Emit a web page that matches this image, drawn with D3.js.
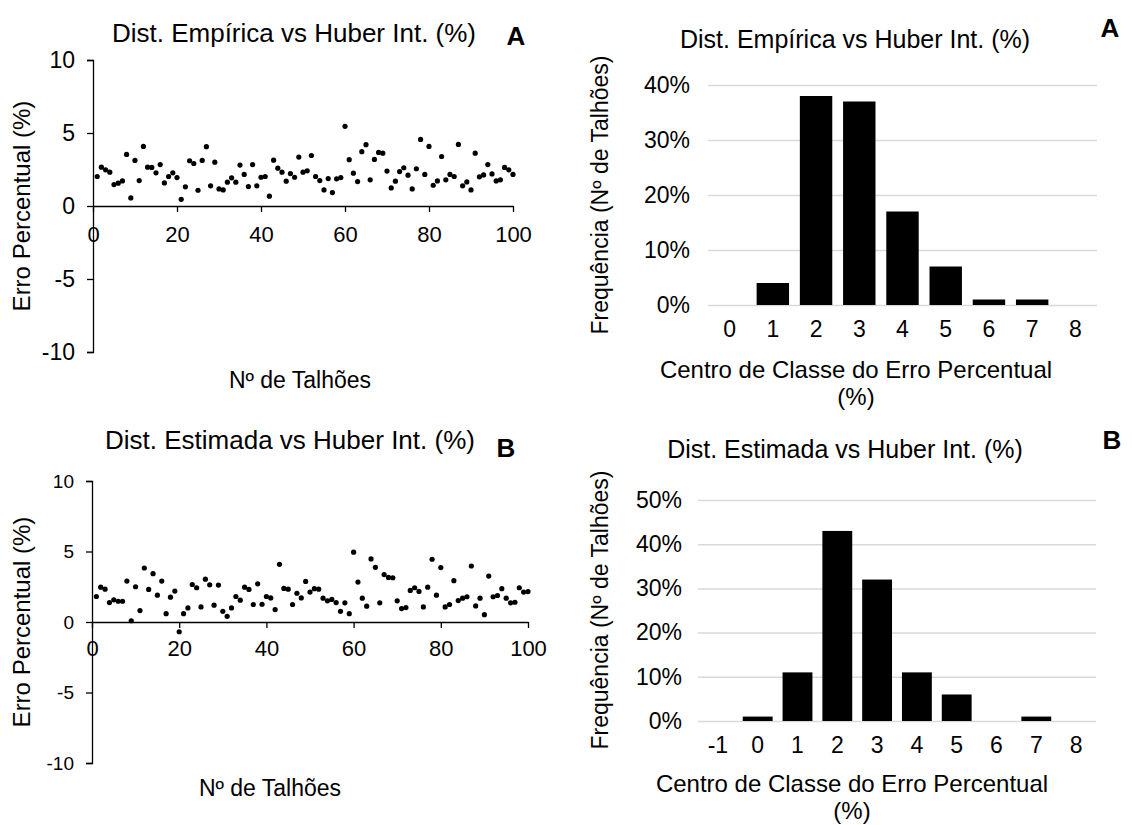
<!DOCTYPE html>
<html>
<head>
<meta charset="utf-8">
<script src="https://cdn.jsdelivr.net/npm/d3@7"></script>
<style>
  body { margin: 0; background: #fff; }
  text { font-family: "Liberation Sans", Arial, sans-serif; fill: #000; }
</style>
</head>
<body>
<svg id="chart" width="1132" height="825"></svg>
<script>
// erro percentual por talhão (1..100)
var errEmpirica = [2.02, 2.66, 2.48, 2.32, 1.47, 1.56, 1.72, 3.53, 0.55, 3.12,
    1.74, 4.08, 2.66, 2.64, 2.27, 2.84, 1.58, 2.02, 2.27, 1.95,
    0.46, 1.31, 3.10, 2.91, 1.08, 3.12, 4.06, 1.38, 3.00, 1.17,
    1.10, 1.63, 1.93, 1.63, 2.80, 2.16, 1.33, 2.84, 1.38, 1.97,
    2.02, 0.67, 3.14, 2.59, 2.32, 1.70, 2.22, 1.97, 3.35, 2.32,
    2.41, 3.46, 2.02, 1.74, 1.10, 1.88, 0.92, 1.86, 1.95, 5.46,
    3.17, 2.25, 1.67, 3.72, 4.20, 1.79, 3.19, 3.67, 3.62, 2.39,
    1.24, 1.70, 2.36, 2.62, 2.11, 1.17, 2.55, 4.56, 2.16, 4.08,
    1.42, 1.72, 3.39, 1.79, 2.16, 2.02, 4.22, 1.38, 1.65, 1.10,
    3.62, 2.00, 2.13, 2.84, 2.20, 1.72, 1.79, 2.64, 2.48, 2.16];

var errEstimada = [1.81, 2.47, 2.33, 1.38, 1.57, 1.47, 1.47, 2.90, 0.09, 2.50,
    0.81, 3.83, 2.31, 3.43, 1.90, 2.90, 0.59, 1.76, 2.19, -0.69,
    0.59, 1.00, 2.66, 2.43, 1.07, 3.04, 2.64, 1.19, 2.62, 0.76,
    0.40, 1.00, 1.81, 1.55, 2.47, 2.31, 1.24, 2.71, 1.26, 1.81,
    1.71, 0.88, 4.09, 2.38, 2.33, 1.24, 2.04, 1.71, 2.88, 2.12,
    2.36, 2.33, 1.69, 1.50, 1.60, 1.38, 0.76, 1.36, 0.59, 4.95,
    2.83, 1.69, 1.12, 4.47, 3.88, 1.36, 3.36, 3.16, 3.14, 1.50,
    0.95, 1.02, 2.24, 2.43, 2.17, 1.07, 2.47, 4.45, 1.90, 3.86,
    1.07, 1.24, 2.93, 1.52, 1.69, 1.79, 3.97, 1.14, 1.69, 0.52,
    3.26, 1.79, 1.88, 2.36, 1.69, 1.36, 1.40, 2.43, 2.12, 2.16];

var scatterTicksX = [0, 20, 40, 60, 80, 100];
var scatterTicksY = [-10, -5, 0, 5, 10];

var classesA = ['0', '1', '2', '3', '4', '5', '6', '7', '8'];
var freqA = [0, 0.04, 0.38, 0.37, 0.17, 0.07, 0.01, 0.01, 0];
var ticksA = [0, 0.1, 0.2, 0.3, 0.4];

var classesB = ['-1', '0', '1', '2', '3', '4', '5', '6', '7', '8'];
var freqB = [0, 0.01, 0.11, 0.43, 0.32, 0.11, 0.06, 0, 0.01, 0];
var ticksB = [0, 0.1, 0.2, 0.3, 0.4, 0.5];

var svg = d3.select('#chart');

function plain(d) { return String(d); }

function drawScatter(cfg, values) {
    var g = svg.append('g');
    var x = d3.scaleLinear().domain([0, 100]).range([cfg.left, cfg.right]);
    var y = d3.scaleLinear().domain([-10, 10]).range([cfg.bottom, cfg.top]);

    var yAxis = g.append('g')
        .attr('transform', 'translate(' + cfg.left + ',0)')
        .call(d3.axisLeft(y).tickValues(scatterTicksY).tickFormat(plain)
            .tickSize(6).tickSizeOuter(6).tickPadding(cfg.yPad));
    yAxis.selectAll('text').style('font-size', cfg.yFont + 'px');

    var xAxis = g.append('g')
        .attr('transform', 'translate(0,' + y(0) + ')')
        .call(d3.axisBottom(x).tickValues(scatterTicksX).tickFormat(plain)
            .tickSize(6).tickSizeOuter(0).tickPadding(cfg.xPad));
    xAxis.selectAll('text').style('font-size', cfg.xFont + 'px');

    g.selectAll('.domain, .tick line').attr('stroke', '#000').attr('stroke-width', 1.3);

    g.selectAll('.pt')
        .data(values)
        .enter()
        .append('circle')
        .attr('class', 'pt')
        .attr('cx', function (d, i) { return x(i + 1); })
        .attr('cy', function (d) { return y(d); })
        .attr('r', 2.6)
        .attr('fill', '#000');

    g.append('text')
        .attr('x', cfg.titleX).attr('y', cfg.titleY)
        .attr('text-anchor', 'middle')
        .style('font-size', '26px')
        .text(cfg.title);

    g.append('text')
        .attr('x', cfg.tagX).attr('y', cfg.tagY)
        .attr('text-anchor', 'middle')
        .style('font-size', '26px').style('font-weight', 'bold')
        .text(cfg.tag);

    g.append('text')
        .attr('transform', 'translate(' + cfg.yTitleX + ',' + ((cfg.top + cfg.bottom) / 2) + ')rotate(-90)')
        .attr('text-anchor', 'middle')
        .attr('dy', '0.35em')
        .style('font-size', '24px')
        .text('Erro Percentual (%)');

    g.append('text')
        .attr('x', cfg.xTitleX).attr('y', cfg.xTitleY)
        .attr('text-anchor', 'middle')
        .style('font-size', '23px')
        .text('Nº de Talhões');
}

function drawHist(cfg, classes, freq, ticks) {
    var g = svg.append('g');
    var x = d3.scaleBand().domain(classes).range([cfg.left, cfg.right])
        .paddingInner(0.25).paddingOuter(0.125);
    var y = d3.scaleLinear().domain([0, ticks[ticks.length - 1]]).range([cfg.bottom, cfg.top]);

    var grid = g.append('g')
        .attr('transform', 'translate(' + cfg.left + ',0)')
        .call(d3.axisLeft(y).tickValues(ticks).tickFormat(d3.format('.0%'))
            .tickSize(-(cfg.right - cfg.left)).tickPadding(cfg.left - cfg.labelRight));
    grid.select('.domain').remove();
    grid.selectAll('.tick line').attr('stroke', '#d9d9d9').attr('stroke-width', 1.5);
    grid.selectAll('text').style('font-size', '23px');

    g.selectAll('.bar')
        .data(freq)
        .enter()
        .append('rect')
        .attr('class', 'bar')
        .attr('x', function (d, i) { return x(classes[i]); })
        .attr('width', x.bandwidth())
        .attr('y', function (d) { return y(d); })
        .attr('height', function (d) { return cfg.bottom - y(d); })
        .attr('fill', '#000');

    var xAxis = g.append('g')
        .attr('transform', 'translate(0,' + cfg.bottom + ')')
        .call(d3.axisBottom(x).tickSize(0).tickPadding(cfg.xPad));
    xAxis.select('.domain').remove();
    xAxis.selectAll('text').style('font-size', '23px');

    g.append('text')
        .attr('x', cfg.titleX).attr('y', cfg.titleY)
        .attr('text-anchor', 'middle')
        .style('font-size', '25px')
        .text(cfg.title);

    g.append('text')
        .attr('x', cfg.tagX).attr('y', cfg.tagY)
        .attr('text-anchor', 'middle')
        .style('font-size', '26px').style('font-weight', 'bold')
        .text(cfg.tag);

    g.append('text')
        .attr('transform', 'translate(' + cfg.yTitleX + ',' + cfg.yTitleY + ')rotate(-90)')
        .attr('text-anchor', 'middle')
        .attr('dy', '0.35em')
        .style('font-size', '23px')
        .text('Frequência (Nº de Talhões)');

    var xt = g.append('text')
        .attr('x', cfg.xTitleX).attr('y', cfg.xTitleY)
        .attr('text-anchor', 'middle')
        .style('font-size', '24px');
    xt.append('tspan').attr('x', cfg.xTitleX).text('Centro de Classe do Erro Percentual');
    xt.append('tspan').attr('x', cfg.xTitleX).attr('dy', 27).text('(%)');
}

drawScatter({
    left: 93, right: 513, top: 60, bottom: 352,
    yPad: 12, yFont: 23, xPad: 14, xFont: 22,
    title: 'Dist. Empírica vs Huber Int. (%)', titleX: 294, titleY: 42,
    tag: 'A', tagX: 516, tagY: 45,
    yTitleX: 22, xTitleX: 300, xTitleY: 388
}, errEmpirica);

drawScatter({
    left: 92, right: 528, top: 481, bottom: 763,
    yPad: 12, yFont: 19, xPad: 12, xFont: 22,
    title: 'Dist. Estimada vs Huber Int. (%)', titleX: 290, titleY: 449,
    tag: 'B', tagX: 506, tagY: 457,
    yTitleX: 22, xTitleX: 270, xTitleY: 796
}, errEstimada);

drawHist({
    left: 708, right: 1097, top: 85, bottom: 305, labelRight: 690,
    xPad: 16,
    title: 'Dist. Empírica vs Huber Int. (%)', titleX: 855, titleY: 48,
    tag: 'A', tagX: 1110, tagY: 37,
    yTitleX: 600, yTitleY: 195, xTitleX: 856, xTitleY: 378
}, classesA, freqA, ticksA);

drawHist({
    left: 698, right: 1096, top: 500, bottom: 721, labelRight: 682,
    xPad: 16,
    title: 'Dist. Estimada vs Huber Int. (%)', titleX: 845, titleY: 458,
    tag: 'B', tagX: 1112, tagY: 449,
    yTitleX: 600, yTitleY: 610, xTitleX: 852, xTitleY: 792
}, classesB, freqB, ticksB);
</script>
</body>
</html>
